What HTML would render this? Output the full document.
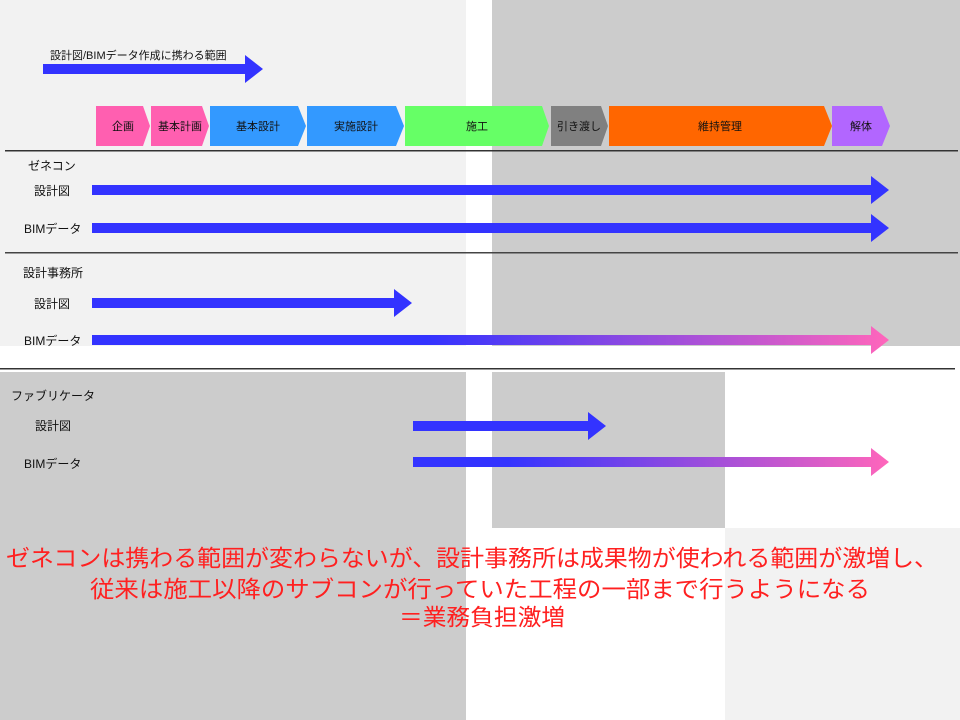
<!DOCTYPE html>
<html><head><meta charset="utf-8"><style>
html,body{margin:0;padding:0;width:960px;height:720px;overflow:hidden;background:#fff}
svg{display:block}
text{font-family:"Liberation Sans","Noto Sans CJK JP",sans-serif}
</style></head><body>
<svg width="960" height="720" viewBox="0 0 960 720" xmlns="http://www.w3.org/2000/svg">
<defs>
<linearGradient id="g1" gradientUnits="userSpaceOnUse" x1="92" y1="0" x2="889" y2="0">
<stop offset="0.42" stop-color="#3333ff"/><stop offset="1" stop-color="#ff66bb"/></linearGradient>
<linearGradient id="g2" gradientUnits="userSpaceOnUse" x1="413" y1="0" x2="889" y2="0">
<stop offset="0.2" stop-color="#3333ff"/><stop offset="1" stop-color="#ff66bb"/></linearGradient>
</defs>
<!-- backgrounds -->
<rect x="0" y="0" width="466" height="346" fill="#f2f2f2"/>
<rect x="492" y="0" width="468" height="346" fill="#cccccc"/>
<rect x="0" y="372" width="466" height="348" fill="#cccccc"/>
<rect x="492" y="372" width="233" height="156" fill="#cccccc"/>
<rect x="725" y="528" width="235" height="192" fill="#f2f2f2"/>
<!-- lines -->
<rect x="5" y="150" width="953" height="1.5" fill="#333"/>
<rect x="5" y="252" width="953" height="1.5" fill="#444"/>
<rect x="0" y="368" width="955" height="1.5" fill="#333"/>
<!-- top legend -->
<text x="50" y="59" font-size="11" fill="#111">設計図/BIMデータ作成に携わる範囲</text>
<polygon points="43,64 245,64 245,55 263,69 245,83 245,74 43,74" fill="#3333ff"/>
<!-- phases -->
<g font-size="11" fill="#111" text-anchor="middle">
<polygon points="96,106 143,106 150,126 143,146 96,146" fill="#ff5fb0"/><text x="123" y="130">企画</text>
<polygon points="151,106 202,106 209,126 202,146 151,146" fill="#ff5fb0"/><text x="180" y="130">基本計画</text>
<polygon points="210,106 298,106 306,126 298,146 210,146" fill="#3399ff"/><text x="258" y="130">基本設計</text>
<polygon points="307,106 396,106 404,126 396,146 307,146" fill="#3399ff"/><text x="356" y="130">実施設計</text>
<polygon points="405,106 542,106 549,126 542,146 405,146" fill="#66ff66"/><text x="477" y="130">施工</text>
<polygon points="551,106 601,106 608,126 601,146 551,146" fill="#808080"/><text x="579" y="130">引き渡し</text>
<polygon points="609,106 824,106 832,126 824,146 609,146" fill="#ff6600"/><text x="720" y="130">維持管理</text>
<polygon points="832,106 882,106 890,126 882,146 832,146" fill="#b266ff"/><text x="861" y="130">解体</text>
</g>
<!-- labels -->
<g font-size="12" fill="#111">
<text x="28" y="170">ゼネコン</text>
<text x="34" y="195">設計図</text>
<text x="24" y="233">BIMデータ</text>
<text x="23" y="277">設計事務所</text>
<text x="34" y="308">設計図</text>
<text x="24" y="345">BIMデータ</text>
<text x="11" y="400">ファブリケータ</text>
<text x="35" y="430">設計図</text>
<text x="24" y="468">BIMデータ</text>
</g>
<!-- arrows -->
<polygon points="92,185 871,185 871,176 889,190 871,204 871,195 92,195" fill="#3333ff"/>
<polygon points="92,223 871,223 871,214 889,228 871,242 871,233 92,233" fill="#3333ff"/>
<polygon points="92,298 394,298 394,289 412,303 394,317 394,308 92,308" fill="#3333ff"/>
<polygon points="92,335 871,335 871,326 889,340 871,354 871,345 92,345" fill="url(#g1)"/>
<polygon points="413,421 588,421 588,412 606,426 588,440 588,431 413,431" fill="#3333ff"/>
<polygon points="413,457 871,457 871,448 889,462 871,476 871,467 413,467" fill="url(#g2)"/>
<!-- red text -->
<g font-size="23" fill="#ff2020" text-anchor="middle">
<text x="472" y="566" textLength="932" lengthAdjust="spacingAndGlyphs">ゼネコンは携わる範囲が変わらないが、設計事務所は成果物が使われる範囲が激増し、</text>
<text x="480" y="597" textLength="780" lengthAdjust="spacingAndGlyphs">従来は施工以降のサブコンが行っていた工程の一部まで行うようになる</text>
<text x="482" y="625" textLength="166" lengthAdjust="spacingAndGlyphs">＝業務負担激増</text>
</g>
</svg>
</body></html>
